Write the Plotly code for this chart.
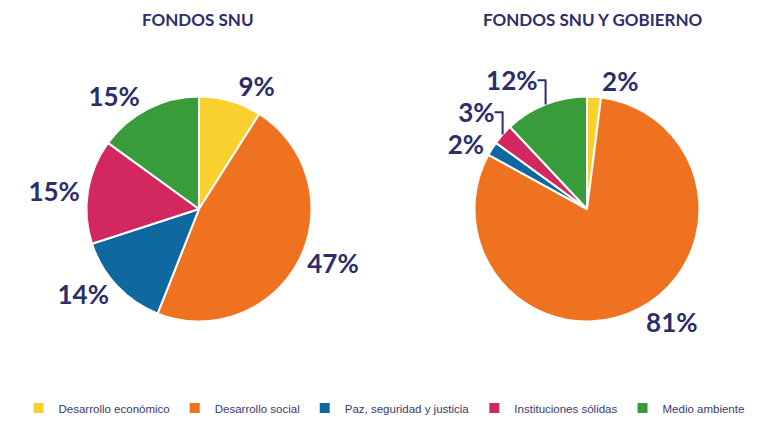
import plotly.graph_objects as go

categories = ["Desarrollo económico", "Desarrollo social", "Paz, seguridad y justicia",
              "Instituciones sólidas", "Medio ambiente"]
snu_values = [9, 47, 14, 15, 15]
snu_gob_values = [2, 81, 2, 3, 12]
titles = ["FONDOS SNU", "FONDOS SNU Y GOBIERNO"]
colors = ["#F9D12F", "#EE721F", "#0F69A0", "#D3285F", "#399C3A"]
navy = "#2D2D6B"

W, H = 768, 427
R = 112.5
CY = 209
centers_x = [199, 587]


def xdom(cx):
    return [(cx - 150) / W, (cx + 150) / W]


ydom = [1 - (CY + R) / H, 1 - (CY - R) / H]

fig = go.Figure()
for i, vals in enumerate([snu_values, snu_gob_values]):
    fig.add_trace(go.Pie(
        labels=categories, values=vals, sort=False, direction="clockwise", rotation=0,
        marker=dict(colors=colors, line=dict(color="white", width=2)),
        textinfo="percent", texttemplate="%{value}%", textposition="outside",
        textfont=dict(family="Lato", size=26, color=navy, weight="bold"),
        domain=dict(x=xdom(centers_x[i]), y=ydom), showlegend=(i == 0), hoverinfo="label+percent",
    ))

for t, cx in zip(titles, [198, 593]):
    fig.add_annotation(text=t, x=cx / W, y=1 - 19 / H, xref="paper", yref="paper", showarrow=False,
                       xanchor="center", yanchor="middle",
                       font=dict(family="Lato", size=17, color=navy, weight="bold"))

fig.update_layout(
    width=W, height=H, paper_bgcolor="white", plot_bgcolor="white",
    margin=dict(l=0, r=0, t=0, b=0, autoexpand=False),
    legend=dict(orientation="h", x=0.5, xanchor="center", y=1 - 408 / H, yanchor="middle",
                font=dict(family="Liberation Sans", size=11.5, color="#3A3A6E"), traceorder="normal",
                itemwidth=30, tracegroupgap=0),
)
fig.write_html("out.html", config={"displayModeBar": False},
               post_script="document.body.style.margin='0';document.body.style.overflow='hidden';")
